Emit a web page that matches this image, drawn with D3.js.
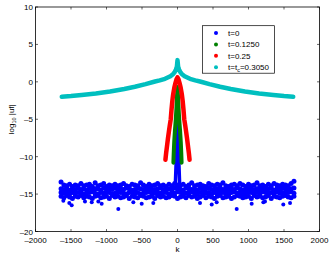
<!DOCTYPE html>
<html>
<head>
<meta charset="utf-8">
<script src="https://cdn.jsdelivr.net/npm/d3@7"></script>
<style>
  body { margin: 0; background: #fff; }
  svg { display: block; font-family: "Liberation Sans", Arial, sans-serif; }
</style>
</head>
<body>
<div id="chart"></div>
<script>
// axis ticks
const kTicks = [-2000, -1500, -1000, -500, 0, 500, 1000, 1500, 2000];
const yTicks = [10, 5, 0, -5, -10, -15, -20];
const seriesNames = ['t=0', 't=0.1250', 't=0.25', 't=t_c=0.3050'];
const seriesColors = ['#0000ff', '#008000', '#ff0000', '#00bfbf'];

// t=0 : noise floor, sampled columns in k with four rows of values
const blueK = [-1640,-1600,-1560,-1520,-1480,-1440,-1400,-1360,-1320,-1280,
  -1240,-1200,-1160,-1120,-1080,-1040,-1000,-960,-920,-880,
  -840,-800,-760,-720,-680,-640,-600,-560,-520,-480,
  -440,-400,-360,-320,-280,-240,-200,-160,-120,-80,
  -40,0,40,80,120,160,200,240,280,320,
  360,400,440,480,520,560,600,640,680,720,
  760,800,840,880,920,960,1000,1040,1080,1120,
  1160,1200,1240,1280,1320,1360,1400,1440,1480,1520,
  1560,1600,1640];
const blueTop = [-13.4,-13.8,-13.9,-13.7,-14.0,-13.8,-13.9,-13.6,-13.9,-13.8,
  -13.7,-14.0,-13.5,-13.9,-13.8,-13.6,-14.0,-13.8,-13.9,-13.7,
  -13.9,-13.8,-13.6,-13.9,-14.0,-13.7,-13.8,-13.9,-13.5,-13.8,
  -14.0,-13.7,-13.9,-13.8,-13.6,-13.9,-13.8,-14.0,-13.7,-13.9,
  -13.6,-13.8,-13.9,-13.7,-14.0,-13.8,-13.5,-13.9,-13.8,-13.7,
  -13.9,-14.0,-13.6,-13.8,-13.9,-13.7,-13.8,-13.5,-13.9,-14.0,
  -13.8,-13.7,-13.9,-13.6,-13.8,-14.0,-13.7,-13.9,-13.8,-13.5,
  -13.9,-13.8,-14.0,-13.7,-13.9,-13.6,-13.8,-13.9,-13.7,-13.8,
  -13.9,-13.6,-13.3];
const blueUpper = [-14.3,-14.4,-14.2,-14.5,-14.3,-14.4,-14.2,-14.4,-14.3,-14.5,
  -14.2,-14.4,-14.3,-14.3,-14.5,-14.2,-14.4,-14.3,-14.4,-14.2,
  -14.5,-14.3,-14.4,-14.2,-14.3,-14.5,-14.4,-14.2,-14.3,-14.4,
  -14.3,-14.2,-14.5,-14.4,-14.3,-14.2,-14.4,-14.5,-14.3,-14.4,
  -14.2,-14.3,-14.4,-14.5,-14.2,-14.3,-14.4,-14.3,-14.5,-14.2,
  -14.4,-14.3,-14.2,-14.4,-14.5,-14.3,-14.2,-14.4,-14.3,-14.5,
  -14.3,-14.4,-14.2,-14.3,-14.5,-14.4,-14.2,-14.3,-14.4,-14.3,
  -14.5,-14.2,-14.4,-14.3,-14.2,-14.5,-14.3,-14.4,-14.2,-14.3,
  -14.4,-14.3,-14.2];
const blueLower = [-14.8,-14.9,-14.7,-15.0,-14.8,-14.9,-14.8,-14.7,-15.0,-14.9,
  -14.8,-14.7,-14.9,-15.0,-14.8,-14.9,-14.7,-14.8,-15.0,-14.9,
  -14.7,-14.8,-14.9,-15.0,-14.8,-14.7,-14.9,-14.8,-15.0,-14.9,
  -14.8,-14.7,-15.0,-14.9,-14.8,-14.9,-14.7,-14.8,-15.0,-14.8,
  -14.9,-14.7,-14.8,-15.0,-14.9,-14.8,-14.7,-14.9,-15.0,-14.8,
  -14.7,-14.9,-14.8,-15.0,-14.8,-14.9,-14.7,-14.8,-14.9,-15.0,
  -14.8,-14.7,-14.9,-14.8,-15.0,-14.9,-14.7,-14.8,-14.9,-14.8,
  -15.0,-14.7,-14.8,-14.9,-14.8,-15.0,-14.7,-14.9,-14.8,-14.9,
  -14.8,-14.7,-14.9];
const blueBottom = [-15.3,-15.5,-15.2,-15.4,-15.6,-15.3,-15.4,-15.2,-15.5,-15.3,
  -15.4,-15.6,-15.3,-15.2,-15.5,-15.4,-15.3,-15.6,-15.2,-15.4,
  -15.3,-15.5,-15.4,-15.2,-15.6,-15.3,-15.4,-15.5,-15.2,-15.3,
  -15.5,-15.4,-15.3,-15.6,-15.2,-15.4,-15.3,-15.5,-15.4,-15.2,
  -15.3,-15.6,-15.4,-15.3,-15.5,-15.2,-15.4,-15.3,-15.6,-15.4,
  -15.2,-15.5,-15.3,-15.4,-15.6,-15.3,-15.2,-15.5,-15.4,-15.3,
  -15.6,-15.4,-15.2,-15.3,-15.5,-15.4,-15.3,-15.6,-15.2,-15.4,
  -15.3,-15.5,-15.4,-15.2,-15.6,-15.3,-15.4,-15.5,-15.3,-15.2,
  -15.4,-15.5,-15.3];
const blueOutK = [-1608,-1524,-1490,-1303,-1208,-1115,-1068,-834,-622,-504,-341,
  317,482,552,834,1045,1209,1232,1490,1585];
const blueOutV = [-15.9,-16.2,-16.5,-16.0,-16.1,-16.0,-16.3,-17.0,-16.1,-16.3,-16.2,
  -16.2,-16.4,-16.1,-17.0,-16.3,-16.1,-16.0,-16.4,-16.2];
const blueCoreK = [-30, -20, -12, -6, 0, 6, 12, 20, 30];
const blueCoreV = [-13.6, -11.0, -8.2, -5.8, -3.5, -5.8, -8.2, -11.0, -13.6];

// t=0.1250
const greenK = [-58, -53, -46, -36, -24, -15, -8, 0, 8, 15, 24, 36, 46, 53, 58];
const greenV = [-10.8, -9.5, -8.0, -6.5, -5.0, -3.5, -2.0, -0.7, -2.0, -3.5, -5.0, -6.5, -8.0, -9.5, -10.8];

// t=0.25
const redK = [-170, -160, -148, -135, -122, -110, -95, -85, -72, -60, -45, -30, -15, 0,
  15, 30, 45, 60, 72, 85, 95, 110, 122, 135, 148, 160, 170];
const redV = [-10.4, -9.5, -8.6, -7.6, -6.7, -5.9, -5.0, -3.8, -2.5, -1.6, -0.8, -0.2, 0.3, 0.6,
  0.3, -0.2, -0.8, -1.6, -2.5, -3.8, -5.0, -5.9, -6.7, -7.6, -8.6, -9.5, -10.4];

// t=tc
const cyanK = [-1630, -1500, -1350, -1150, -950, -750, -600, -450, -317, -250, -176, -100, -60, -40, -25, -15, -8, -4, 0,
  4, 8, 15, 25, 40, 60, 100, 176, 250, 317, 450, 600, 750, 950, 1150, 1350, 1500, 1630];
const cyanV = [-2.0, -1.9, -1.75, -1.55, -1.3, -0.95, -0.65, -0.3, 0.05, 0.2, 0.4, 0.75, 1.05, 1.3, 1.55, 1.8, 2.1, 2.5, 2.9,
  2.5, 2.1, 1.8, 1.55, 1.3, 1.05, 0.75, 0.4, 0.2, 0.05, -0.3, -0.65, -0.95, -1.3, -1.55, -1.75, -1.9, -2.0];

const width = 332, height = 255;
const margin = { left: 35.5, right: 12.5, top: 7, bottom: 23.5 };

const svg = d3.select('#chart').append('svg')
  .attr('width', width)
  .attr('height', height);

const x = d3.scaleLinear().domain([-2000, 2000]).range([margin.left, width - margin.right]);
const y = d3.scaleLinear().domain([-20, 10]).range([height - margin.bottom, margin.top]);

const plot = svg.append('g');

// t=0 noise band
const blueRows = [blueTop, blueUpper, blueLower, blueBottom];
blueRows.forEach(row => {
  plot.append('g').selectAll('circle')
    .data(blueK)
    .enter().append('circle')
      .attr('cx', d => x(d))
      .attr('cy', (d, i) => y(row[i]))
      .attr('r', 2.5)
      .attr('fill', seriesColors[0]);
});
plot.append('g').selectAll('circle')
  .data(blueOutK)
  .enter().append('circle')
    .attr('cx', d => x(d))
    .attr('cy', (d, i) => y(blueOutV[i]))
    .attr('r', 2)
    .attr('fill', seriesColors[0]);

const line = d3.line().x(d => x(d[0])).y(d => y(d[1]));
const curve = (ks, vs, color, w) => {
  plot.append('path')
    .datum(ks.map((k, i) => [k, vs[i]]))
    .attr('d', line)
    .attr('fill', 'none')
    .attr('stroke', color)
    .attr('stroke-width', w)
    .attr('stroke-linecap', 'round')
    .attr('stroke-linejoin', 'round');
};
curve(blueCoreK, blueCoreV, seriesColors[0], 3.5);
curve(greenK, greenV, seriesColors[1], 4);
curve(redK, redV, seriesColors[2], 4.5);
curve(cyanK, cyanV, seriesColors[3], 4.5);

// axes box with inward ticks
const axisG = svg.append('g').attr('font-size', '8px').attr('fill', '#000');
axisG.append('rect')
  .attr('x', x(-2000)).attr('y', y(10))
  .attr('width', x(2000) - x(-2000)).attr('height', y(-20) - y(10))
  .attr('fill', 'none').attr('stroke', '#000').attr('stroke-width', 0.8);

const tl = 2.5;
kTicks.forEach(t => {
  axisG.append('line').attr('x1', x(t)).attr('x2', x(t))
    .attr('y1', y(-20)).attr('y2', y(-20) - tl).attr('stroke', '#000').attr('stroke-width', 0.6);
  axisG.append('line').attr('x1', x(t)).attr('x2', x(t))
    .attr('y1', y(10)).attr('y2', y(10) + tl).attr('stroke', '#000').attr('stroke-width', 0.6);
  axisG.append('text').attr('x', x(t)).attr('y', y(-20) + 11)
    .attr('text-anchor', 'middle')
    .text(t < 0 ? '\u2013' + Math.abs(t) : t);
});
yTicks.forEach(t => {
  axisG.append('line').attr('x1', x(-2000)).attr('x2', x(-2000) + tl)
    .attr('y1', y(t)).attr('y2', y(t)).attr('stroke', '#000').attr('stroke-width', 0.6);
  axisG.append('line').attr('x1', x(2000)).attr('x2', x(2000) - tl)
    .attr('y1', y(t)).attr('y2', y(t)).attr('stroke', '#000').attr('stroke-width', 0.6);
  axisG.append('text').attr('x', x(-2000) - 2.5).attr('y', y(t) + 3)
    .attr('text-anchor', 'end')
    .text(t < 0 ? '\u2013' + Math.abs(t) : t);
});

axisG.append('text').attr('x', x(0)).attr('y', 251.5)
  .attr('text-anchor', 'middle').text('k');

const yl = axisG.append('text')
  .attr('transform', 'translate(14,' + y(-5) + ') rotate(-90)')
  .attr('text-anchor', 'middle');
yl.append('tspan').text('log');
yl.append('tspan').attr('font-size', '5.5px').attr('dy', 2).text('10');
yl.append('tspan').attr('dy', -2).text(' |uf|');

// legend
const lg = svg.append('g').attr('font-size', '8px');
lg.append('rect')
  .attr('x', 202.5).attr('y', 25.7).attr('width', 72).attr('height', 47.5)
  .attr('fill', '#fff').attr('stroke', '#000').attr('stroke-width', 0.7);
seriesNames.forEach((name, i) => {
  const ry = 33 + i * 11.4;
  lg.append('circle').attr('cx', 216).attr('cy', ry).attr('r', 2).attr('fill', seriesColors[i]);
  const tx = lg.append('text').attr('x', 228).attr('y', ry + 3);
  if (name.indexOf('_') >= 0) {
    tx.append('tspan').text('t=t');
    tx.append('tspan').attr('font-size', '5.5px').attr('dy', 2).text('c');
    tx.append('tspan').attr('dy', -2).text('=0.3050');
  } else {
    tx.text(name);
  }
});
</script>
</body>
</html>
